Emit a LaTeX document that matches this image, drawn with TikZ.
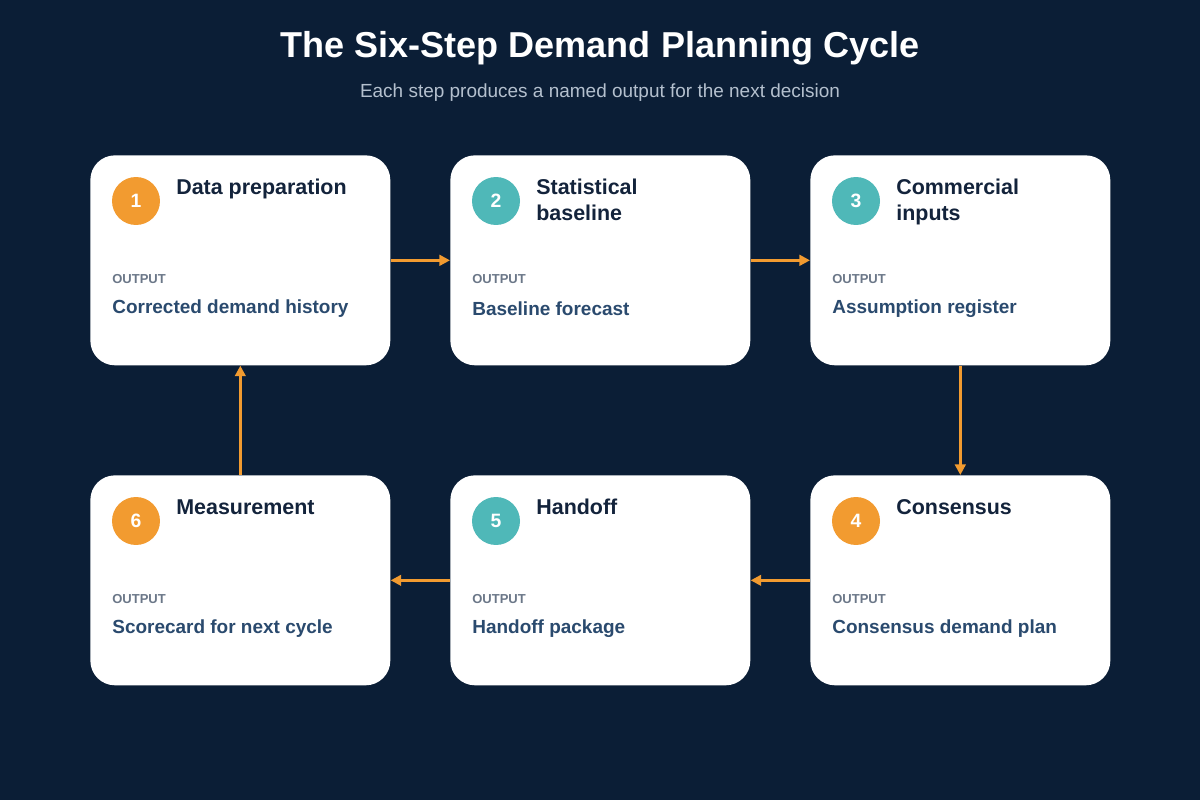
\documentclass[tikz,border=0pt]{standalone}
\usepackage{fontspec}
\setmainfont{Liberation Sans}
\usetikzlibrary{arrows.meta,positioning,calc}
\definecolor{bgnavy}{HTML}{0B1E36}
\definecolor{stepor}{HTML}{F29B30}
\definecolor{stepte}{HTML}{4FB8B8}
\definecolor{titlenavy}{HTML}{13233B}
\definecolor{outblue}{HTML}{2A4A6E}
\definecolor{outgray}{HTML}{6B7788}
\definecolor{subgray}{HTML}{B4C0CE}

\tikzset{
  card/.style={draw=none, fill=white, rounded corners=14pt, minimum width=6cm, minimum height=4.2cm, anchor=north west},
  badge/.style={circle, minimum size=0.96cm, inner sep=0pt, text=white, font=\bfseries\fontsize{11}{11}\selectfont},
  steptitle/.style={anchor=north west, align=left, text=titlenavy, inner sep=0pt, font=\bfseries\fontsize{12.2}{14.6}\selectfont},
  outlabel/.style={anchor=west, inner sep=0pt, text=outgray, font=\bfseries\fontsize{7.4}{8}\selectfont},
  outtext/.style={anchor=west, inner sep=0pt, text=outblue, font=\bfseries\fontsize{10.8}{12}\selectfont},
  flow/.style={-{Triangle[length=6pt,width=6pt]}, draw=stepor, line width=1.6pt}
}

\begin{document}
\begin{tikzpicture}[x=0.02cm, y=-0.02cm]
  \fill[bgnavy] (0,0) rectangle (1200,800);
  \useasboundingbox (0,0) rectangle (1200,800);

  \node (title) at (600,48) [text=white, font=\bfseries\fontsize{20.5}{24}\selectfont] {The Six-Step Demand Planning Cycle};
  \node (subtitle) at (600,93) [text=subgray, font=\fontsize{10.8}{13}\selectfont] {Each step produces a named output for the next decision};

  % cards: name / position / badge colour / number / title / output
  \foreach \n/\x/\y/\col/\ttl/\out in {
      1/90/155/stepor/{Data preparation}/{Corrected demand history},
      2/450/155/stepte/{Statistical\\baseline}/{Baseline forecast},
      3/810/155/stepte/{Commercial\\inputs}/{Assumption register},
      4/810/475/stepor/{Consensus}/{Consensus demand plan},
      5/450/475/stepte/{Handoff}/{Handoff package},
      6/90/475/stepor/{Measurement}/{Scorecard for next cycle}} {
    \node (s\n) at (\x,\y) [card] {};
    \node (b\n) at ($(\x,\y)+(46,46)$) [badge, fill=\col] {\n};
    \node (t\n) at ($(\x,\y)+(86,24)$) [steptitle] {\ttl};
    \node (l\n) at ($(\x,\y)+(22,124)$) [outlabel] {OUTPUT};
    \node (o\n) at ($(\x,\y)+(22,154)$) [outtext] {\out};
  }

  \draw [flow] (s1.east) -- (s2.west);
  \draw [flow] (s2.east) -- (s3.west);
  \draw [flow] (s3.south) -- (s4.north);
  \draw [flow] (s4.west) -- (s5.east);
  \draw [flow] (s5.west) -- (s6.east);
  \draw [flow] (s6.north) -- (s1.south);
\end{tikzpicture}
\end{document}
